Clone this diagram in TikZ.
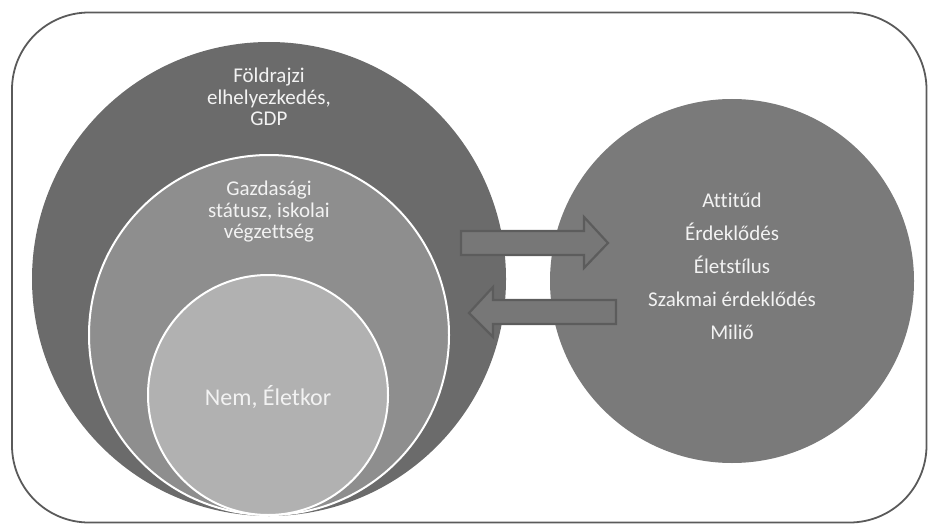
\documentclass[tikz,border=0pt]{standalone}
\usepackage{fontspec}
\setmainfont{Carlito}[Ligatures={NoCommon}]
\definecolor{frame}{HTML}{5A5A5A}
\definecolor{bigc}{HTML}{6B6B6B}
\definecolor{midc}{HTML}{8E8E8E}
\definecolor{innc}{HTML}{B1B1B1}
\definecolor{rigc}{HTML}{7A7A7A}
\definecolor{arrf}{HTML}{777777}
\definecolor{arrd}{HTML}{5C5C5C}
\definecolor{txt}{HTML}{F2F2F2}
\tikzset{
  circ/.style={circle, inner sep=0pt, minimum size=#1},
  lbl/.style={text=txt, align=center, inner sep=0pt, font=\fontsize{21}{21.5}\selectfont},
  rlbl/.style={text=txt, align=center, inner sep=0pt, font=\fontsize{21}{33}\selectfont},
  blockarrow/.style={fill=arrf, draw=arrd, line width=2.2pt, line join=miter},
}
\begin{document}
\begin{tikzpicture}[x=1pt,y=-1pt]
\useasboundingbox (0,0) rectangle (928,524);
\draw[frame, line width=1.8pt, rounded corners=77pt] (12,12.5) rectangle (926.5,522.5);
\node[circ=474pt, fill=bigc] (big) at (269,279) {};
\node[circ=360pt, fill=midc, draw=white, line width=2pt] (mid) at (269,335) {};
\node[circ=240pt, fill=innc, draw=white, line width=2pt] (inn) at (268,395) {};
\node[circ=364pt, fill=rigc] (right) at (732,281) {};
\draw[blockarrow] (461,231) -- (584,231) -- (584,217) -- (608,243) -- (584,268) -- (584,255) -- (461,255) -- cycle;
\draw[blockarrow] (616,300) -- (493,300) -- (493,287) -- (469,313) -- (493,337) -- (493,324) -- (616,324) -- cycle;
\node[lbl] (t1) at (269,97) {Földrajzi\\elhelyezkedés,\\GDP};
\node[lbl] (t2) at (269,212) {Gazdasági\\státusz, iskolai\\végzettség};
\node[lbl, font=\fontsize{24}{26}\selectfont] (t3) at (268,397) {Nem, Életkor};
\node[rlbl] (t4) at (732,266) {Attitűd\\Érdeklődés\\Életstílus\\Szakmai érdeklődés\\Miliő};
\end{tikzpicture}
\end{document}
